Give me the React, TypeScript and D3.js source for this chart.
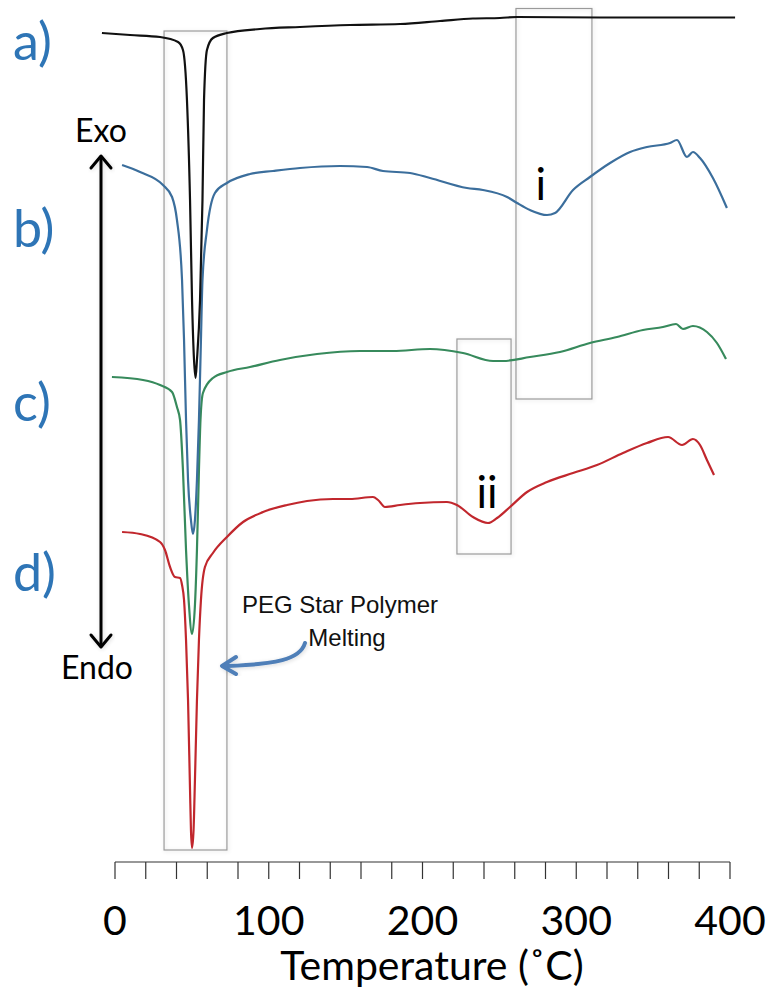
import React from "react";
import * as d3 from "d3";

// Temperature (°C) and heat flow (arbitrary units, offset)
const tempA = [-8.5, 9.8, 29.3, 41.0, 44.2, 46.8, 48.8, 50.1, 51.4, 52.4, 53.3, 55.3, 56.9, 57.9, 59.8, 63.7, 72.8, 94.3, 120.3, 152.8, 185.4, 211.4, 232.8, 250.4, 261.5, 315.4, 403.3];
const flowA = [-1.5, -1.7, -1.9, -2.4, -3.2, -8.2, -18.2, -28.2, -34.2, -36.0, -34.2, -28.2, -18.2, -8.2, -3.2, -2.0, -1.5, -1.1, -0.9, -0.7, -0.6, -0.3, -0.05, 0, 0.1, 0.05, 0.05];

const tempB = [4.6, 16.3, 31.2, 37.1, 40.3, 43.6, 44.9, 46.2, 47.5, 49.4, 50.7, 52.0, 53.3, 54.6, 55.9, 56.9, 59.8, 65.0, 72.8, 87.8, 102.8, 120.3, 146.3, 163.9, 174.3, 191.9, 204.9, 228.9, 239.3, 255.0, 261.5, 269.9, 281.0, 286.2, 297.9, 308.9, 322.0, 335.0, 346.0, 361.0, 365.5, 372.0, 375.9, 380.5, 388.9, 398.0];
const flowB = [-14.7, -15.4, -16.7, -17.9, -20.2, -26.2, -32.2, -40.2, -46.2, -50.2, -51.6, -50.2, -46.2, -40.2, -32.2, -26.2, -21.2, -17.5, -16.5, -15.6, -15.3, -15.0, -14.8, -14.9, -15.3, -15.5, -16.0, -17.0, -17.2, -17.9, -18.5, -19.2, -19.7, -19.5, -17.2, -15.9, -14.5, -13.4, -12.9, -12.5, -12.2, -13.9, -13.4, -14.0, -16.0, -19.0];

const tempC = [-2.0, 18.2, 29.3, 37.1, 40.3, 42.3, 44.2, 46.2, 48.1, 50.1, 52.0, 53.3, 54.6, 55.6, 57.2, 63.7, 72.8, 87.8, 107.3, 131.4, 159.3, 180.8, 204.9, 226.3, 245.9, 252.4, 269.9, 289.4, 308.9, 326.5, 343.4, 356.4, 364.9, 369.4, 375.9, 385.0, 391.5, 397.4];
const flowC = [-35.9, -36.2, -36.7, -37.4, -38.9, -40.2, -45.2, -53.2, -58.7, -61.6, -58.7, -53.2, -45.2, -40.2, -37.5, -36.0, -35.4, -34.9, -34.2, -33.6, -33.3, -33.3, -33.1, -33.5, -34.3, -34.3, -33.9, -33.4, -32.5, -31.9, -31.2, -30.9, -30.6, -31.1, -30.8, -31.4, -32.5, -34.1];

const tempD = [4.6, 16.3, 29.3, 32.5, 35.8, 39.0, 42.3, 43.6, 44.9, 46.2, 47.5, 48.8, 49.4, 50.1, 51.1, 52.0, 53.3, 54.6, 55.9, 58.5, 63.7, 72.8, 83.3, 96.3, 111.9, 124.9, 141.8, 152.8, 167.8, 171.1, 175.6, 185.4, 198.4, 215.9, 222.4, 232.8, 242.6, 248.5, 256.9, 268.0, 281.0, 297.9, 313.5, 330.4, 346.0, 359.7, 368.8, 375.9, 380.5, 385.0, 389.6];
const flowD = [-51.4, -51.6, -52.4, -53.2, -54.9, -55.9, -56.0, -56.7, -58.2, -62.2, -68.2, -77.2, -81.2, -83.0, -81.2, -76.2, -68.2, -62.2, -58.2, -54.9, -53.5, -51.9, -50.4, -49.4, -48.7, -48.3, -48.1, -48.1, -47.9, -48.2, -48.9, -48.7, -48.5, -48.4, -48.7, -49.9, -50.5, -50.0, -48.9, -47.4, -46.4, -45.5, -44.7, -43.5, -42.5, -41.9, -42.7, -42.1, -42.7, -44.2, -45.7];

const seriesLabels = ["a)", "b)", "c)", "d)"];
const seriesColors = ["#111111", "#3b6e9c", "#378a5c", "#c1272d"];

const tickLabels = [0, 100, 200, 300, 400];

// annotation boxes (temperature / flow extents)
const boxT0 = [31.9, 260.8, 222.4];
const boxT1 = [72.8, 310.2, 257.6];
const boxV0 = [-1.3, 0.95, -32.1];
const boxV1 = [-83.2, -38.1, -53.6];
const boxText = ["", "i", "ii"];
const boxTextT = [0, 277, 242];
const boxTextV = [0, -18.2, -49.0];

export default function App() {
  const W = 768;
  const H = 990;
  const x = d3.scaleLinear().domain([0, 400]).range([115, 730]);
  const y = d3.scaleLinear().domain([-83, 0]).range([848, 18]);

  const line = d3
    .line<[number, number]>()
    .x((d) => x(d[0]))
    .y((d) => y(d[1]))
    .curve(d3.curveMonotoneX);

  const series = [
    d3.zip(tempA, flowA),
    d3.zip(tempB, flowB),
    d3.zip(tempC, flowC),
    d3.zip(tempD, flowD),
  ] as [number, number][][];

  const labelY = [60, 247, 421, 591];
  const minorTicks = d3.range(0, 401, 20);
  const axisY = 862;
  const font = "Lato, 'Open Sans', sans-serif";

  return (
    <svg width={W} height={H} style={{ display: "block", position: "absolute", left: 0, top: 0 }}>
      <defs>
        <filter id="soft" x="-20%" y="-5%" width="140%" height="110%">
          <feGaussianBlur in="SourceAlpha" stdDeviation="2" />
          <feOffset dx="1" dy="1" result="b" />
          <feComponentTransfer>
            <feFuncA type="linear" slope="0.15" />
          </feComponentTransfer>
          <feMerge>
            <feMergeNode />
            <feMergeNode in="SourceGraphic" />
          </feMerge>
        </filter>
      </defs>
      <rect width={W} height={H} fill="#fff" />

      {/* annotation boxes */}
      {boxT0.map((t0, i) => (
        <g key={"box" + i}>
          <rect
            x={x(t0)}
            y={y(boxV0[i])}
            width={x(boxT1[i]) - x(t0)}
            height={y(boxV1[i]) - y(boxV0[i])}
            fill="none"
            stroke="#9a9a9a"
            strokeWidth={1.2}
            filter="url(#soft)"
          />
          {boxText[i] && (
            <text
              x={x(boxTextT[i])}
              y={y(boxTextV[i])}
              textAnchor="middle"
              fontFamily={font}
              fontSize={44}
              fill="#000"
            >
              {boxText[i]}
            </text>
          )}
        </g>
      ))}

      {/* traces, drawn bottom to top so the black trace is on top */}
      {series
        .map((s, i) => ({ s, i }))
        .reverse()
        .map(({ s, i }) => (
          <path
            key={"s" + i}
            d={line(s) || ""}
            fill="none"
            stroke={seriesColors[i]}
            strokeWidth={2.2}
            strokeLinejoin="round"
          />
        ))}

      {/* series labels */}
      {seriesLabels.map((l, i) => (
        <text
          key={"lab" + i}
          x={13}
          y={labelY[i]}
          fontFamily={font}
          fontSize={52}
          fill="#2e75b6"
        >
          {l}
        </text>
      ))}

      {/* Exo / Endo arrow */}
      <g stroke="#000" strokeWidth={3} fill="none" strokeLinecap="round" strokeLinejoin="round" filter="url(#soft)">
        <line x1={101} y1={157} x2={101} y2={646} />
        <polyline points="91,168 101,156 111,168" />
        <polyline points="91,635 101,647 111,635" />
      </g>
      <text x={101} y={142} textAnchor="middle" fontFamily={font} fontSize={32} fill="#000">
        Exo
      </text>
      <text x={97} y={679} textAnchor="middle" fontFamily={font} fontSize={32} fill="#000">
        Endo
      </text>

      {/* PEG annotation */}
      <text x={340} y={613} textAnchor="middle" fontFamily="'Liberation Sans', Arial, sans-serif" fontSize={24} fill="#111">
        PEG Star Polymer
      </text>
      <text x={347} y={646} textAnchor="middle" fontFamily="'Liberation Sans', Arial, sans-serif" fontSize={24} fill="#111">
        Melting
      </text>
      <g filter="url(#soft)">
        <path d="M305,643 C300,660 275,664 228,666" fill="none" stroke="#4f7fb8" strokeWidth={4} strokeLinecap="round" />
        <polyline points="236,657 222,666 236,674" fill="none" stroke="#4f7fb8" strokeWidth={4} strokeLinecap="round" strokeLinejoin="round" />
      </g>

      {/* x axis */}
      <line x1={x(0)} x2={x(400)} y1={axisY} y2={axisY} stroke="#333" strokeWidth={1.2} />
      {minorTicks.map((t) => (
        <line key={"t" + t} x1={x(t)} x2={x(t)} y1={axisY} y2={axisY + 17} stroke="#333" strokeWidth={1.2} />
      ))}
      {tickLabels.map((t) => (
        <text key={"tl" + t} x={x(t)} y={935} textAnchor="middle" fontFamily={font} fontSize={41} fill="#000">
          {t}
        </text>
      ))}
      <text x={432} y={980} textAnchor="middle" fontFamily={font} fontSize={41} fill="#000">
        Temperature (˚C)
      </text>
    </svg>
  );
}
